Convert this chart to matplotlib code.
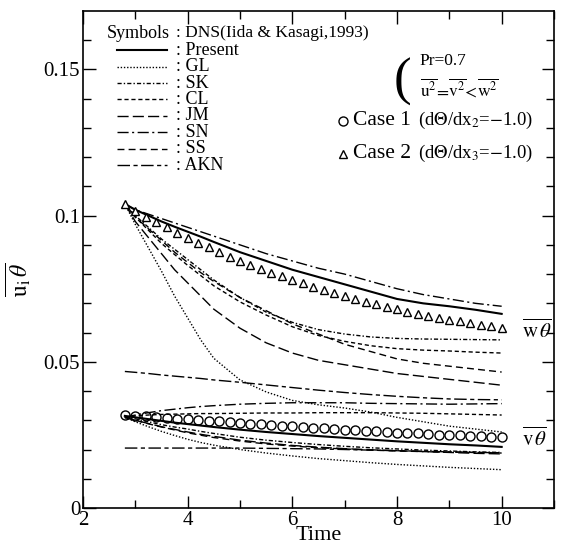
import numpy as np
import matplotlib.pyplot as plt
from matplotlib.lines import Line2D

plt.rcParams['font.family'] = ['Liberation Serif', 'DejaVu Serif']
plt.rcParams['mathtext.fontset'] = 'stix'

# DNS (Iida & Kasagi, 1993) symbols
t_dns = [2.8, 3.0, 3.2, 3.4, 3.6, 3.8, 4.0, 4.2, 4.4, 4.6, 4.8, 5.0, 5.2, 5.4,
         5.6, 5.8, 6.0, 6.2, 6.4, 6.6, 6.8, 7.0, 7.2, 7.4, 7.6, 7.8, 8.0, 8.2,
         8.4, 8.6, 8.8, 9.0, 9.2, 9.4, 9.6, 9.8, 10.0]
dns_w = [.1040, .1015, .0995, .0978, .0960, .0942, .0925, .0908, .0892, .0876,
         .0860, .0845, .0831, .0818, .0805, .0792, .0780, .0768, .0757, .0746,
         .0736, .0726, .0716, .0706, .0697, .0688, .0680, .0672, .0664, .0657,
         .0650, .0644, .0638, .0632, .0627, .0621, .0616]
dns_v = [.0318, .0316, .0313, .0311, .0309, .0306, .0304, .0301, .0299, .0296,
         .0294, .0291, .0289, .0286, .0284, .0281, .0279, .0277, .0274, .0272,
         .0270, .0268, .0266, .0264, .0262, .0260, .0258, .0256, .0255, .0253,
         .0251, .0250, .0248, .0247, .0245, .0244, .0243]

# model curves
t = [2.8, 3.0, 3.25, 3.5, 3.75, 4.0, 4.25, 4.5, 5.0, 5.5, 6.0, 6.5, 7.0, 7.5, 8.0, 8.5, 9.0, 9.5, 10.0]

present_w = [.104, .102, .100, .098, .0962, .0945, .0928, .091, .0875, .0845, .0815, .079, .0765, .074, .0715, .070, .069, .0678, .0664]
present_v = [.0315, .031, .0304, .0298, .0292, .0287, .0282, .0277, .0268, .026, .0253, .0246, .024, .0234, .0228, .0223, .0218, .0214, .0209]

gl_w = [.104, .097, .089, .081, .0725, .065, .0575, .0512, .0438, .0397, .0368, .0353, .0342, .0328, .031, .0295, .028, .027, .026]
gl_v = [.031, .0295, .0278, .0262, .0248, .0235, .0224, .0215, .020, .0188, .0178, .0169, .0162, .0155, .0149, .0144, .0139, .0135, .0131]

sk_w = [.104, .100, .096, .092, .0885, .085, .0815, .078, .072, .067, .0635, .061, .0595, .0585, .058, .0578, .0577, .0576, .0575]
sk_v = [.031, .0305, .0295, .0285, .0277, .027, .0262, .0255, .0242, .0232, .0224, .0217, .0211, .0206, .0202, .0198, .0195, .0192, .019]

cl_w = [.104, .0995, .095, .0905, .0867, .083, .0795, .076, .0705, .066, .062, .059, .057, .0555, .0545, .054, .0537, .0533, .053]
cl_v = [.031, .0315, .0318, .032, .0321, .0322, .0323, .0323, .0324, .0325, .0325, .0326, .0326, .0326, .0325, .0324, .0322, .032, .0318]

jm_w = [.104, .098, .0925, .087, .0815, .077, .0725, .068, .0615, .0565, .053, .0505, .049, .0475, .046, .045, .044, .043, .042]
jm_v = [.031, .030, .0289, .0278, .0269, .026, .0252, .0245, .0232, .0222, .0214, .0208, .0203, .0199, .0196, .0193, .019, .0187, .0185]

sn_w = [.104, .102, .1005, .099, .0975, .096, .0945, .093, .090, .087, .0845, .082, .080, .0775, .075, .073, .0715, .070, .069]
sn_v = [.031, .0318, .0326, .0333, .0338, .0343, .0347, .035, .0355, .0358, .036, .036, .036, .0358, .0357, .0356, .0355, .0356, .0357]

ss_w = [.104, .0995, .0955, .0915, .0875, .084, .0805, .0775, .072, .0675, .063, .0595, .056, .0535, .051, .0495, .0485, .0475, .0465]
ss_v = [.031, .030, .0288, .0277, .0267, .0257, .0249, .0241, .0229, .0219, .0212, .0206, .0202, .0198, .0195, .0193, .0191, .019, .0188]

akn_w = [.0467, .0464, .046, .0455, .0451, .0447, .0443, .0438, .043, .0421, .0412, .0403, .0395, .0388, .0382, .0377, .0373, .0371, .037]
akn_v = [.0205, .0205, .0205, .0205, .0205, .0205, .0205, .0205, .0205, .0204, .0203, .0202, .020, .0198, .0196, .0194, .0192, .019, .0189]

styles = {
    'Present': '-',
    'GL': (0, (1, 1.3)),
    'SK': (0, (3, 1.5, 1, 1.5)),
    'CL': (0, (3, 2)),
    'JM': (0, (8, 3)),
    'SN': (0, (8, 2.5, 1.5, 2.5)),
    'SS': (0, (5, 3)),
    'AKN': (0, (9, 2.5, 3, 2.5)),
}
curves = {
    'Present': (present_w, present_v),
    'GL': (gl_w, gl_v),
    'SK': (sk_w, sk_v),
    'CL': (cl_w, cl_v),
    'JM': (jm_w, jm_v),
    'SN': (sn_w, sn_v),
    'SS': (ss_w, ss_v),
    'AKN': (akn_w, akn_v),
}

fig = plt.figure(figsize=(5.63, 5.46), dpi=100)
ax = fig.add_axes([0.1474, 0.0696, 0.8366, 0.9103])

for name, (w, v) in curves.items():
    lw = 1.5 if name == 'Present' else 1.0
    ax.plot(t, w, color='k', lw=lw, ls=styles[name])
    ax.plot(t, v, color='k', lw=lw, ls=styles[name])

ax.plot(t_dns, dns_w, ls='none', marker='^', ms=5.5, mfc='white', mec='k', mew=1.0)
ax.plot(t_dns, dns_v, ls='none', marker='o', ms=6.5, mfc='none', mec='k', mew=1.0)

ax.set_xlim(2, 11)
ax.set_ylim(0, 0.17)
ax.set_xticks([2, 4, 6, 8, 10])
ax.set_xticks([3, 5, 7, 9, 11], minor=True)
ax.set_yticks([0, 0.05, 0.1, 0.15])
ax.set_yticklabels(['0', '0.05', '0.1', '0.15'])
ax.set_yticks(np.arange(0.01, 0.17, 0.01), minor=True)
ax.tick_params(which='both', direction='in', top=True, right=True, labelsize=15, width=1)
ax.tick_params(which='major', length=9, pad=2)
ax.tick_params(which='minor', length=6)
for s in ax.spines.values():
    s.set_linewidth(1.2)

ax.set_xlabel('Time', fontsize=16, labelpad=-3)
ax.set_ylabel(r'$\overline{\mathrm{u_i}\,\theta}$', fontsize=17)
ax.yaxis.set_label_coords(-0.105, 0.46)

# legend block
tr = ax.transAxes
x0, x1, xc = 0.073, 0.178, 0.198
ax.text(0.051, 0.955, 'Symbols', transform=tr, fontsize=13, va='center')
ax.text(xc, 0.955, ': DNS(Iida & Kasagi,1993)', transform=tr, fontsize=12.5, va='center')
rows = ['Present', 'GL', 'SK', 'CL', 'JM', 'SN', 'SS', 'AKN']
for i, name in enumerate(rows):
    y = 0.921 - i * 0.033
    lw = 1.5 if name == 'Present' else 1.0
    ax.add_line(Line2D([x0, x1], [y, y], transform=tr, color='k', lw=lw, ls=styles[name]))
    ax.text(xc, y, ': ' + name, transform=tr, fontsize=13, va='center')

# conditions
ax.text(0.66, 0.858, '(', transform=tr, fontsize=38, va='center', ha='left')
ax.text(0.715, 0.9, 'Pr=0.7', transform=tr, fontsize=12.5, va='center')
ax.text(0.715, 0.842, r'$\overline{\mathrm{u}^2}\!=\!\overline{\mathrm{v}^2}\!<\!\overline{\mathrm{w}^2}$',
        transform=tr, fontsize=12.5, va='center')
ax.plot([0.552], [0.779], transform=tr, marker='o', ms=6.5, mfc='none', mec='k', mew=1.0)
ax.plot([0.552], [0.713], transform=tr, marker='^', ms=5.5, mfc='none', mec='k', mew=1.0)
ax.text(0.573, 0.779, 'Case 1', transform=tr, fontsize=15.5, va='center')
ax.text(0.712, 0.779, r'(d$\Theta$/dx$_2$=$-$1.0)', transform=tr, fontsize=13.5, va='center')
ax.text(0.573, 0.713, 'Case 2', transform=tr, fontsize=15.5, va='center')
ax.text(0.712, 0.713, r'(d$\Theta$/dx$_3$=$-$1.0)', transform=tr, fontsize=13.5, va='center')

ax.text(10.38, 0.0605, r'$\overline{\mathrm{w}\,\theta}$', fontsize=15, va='center')
ax.text(10.38, 0.0235, r'$\overline{\mathrm{v}\,\theta}$', fontsize=15, va='center')

fig.savefig('out.png', dpi=100)
